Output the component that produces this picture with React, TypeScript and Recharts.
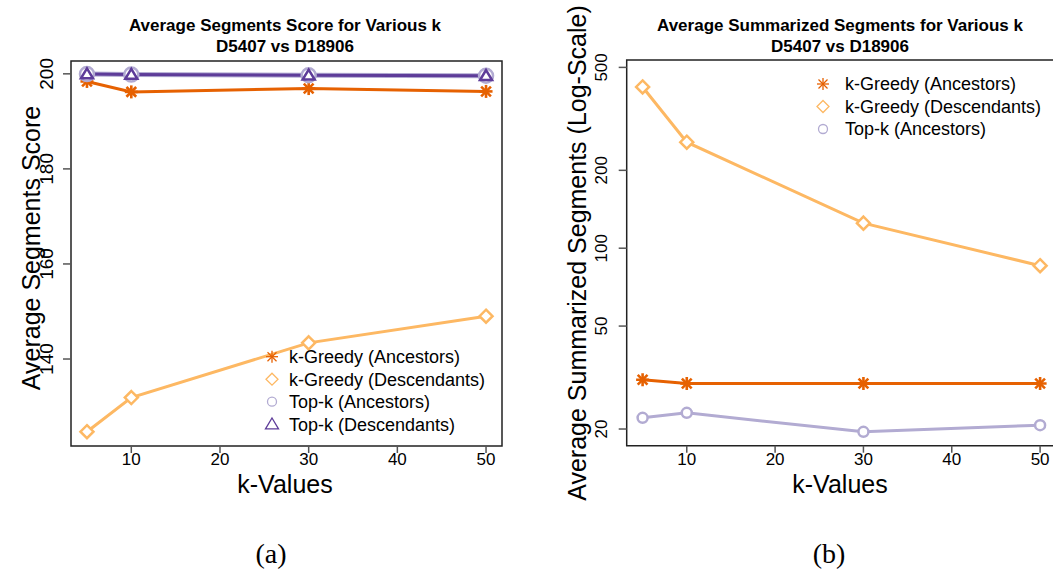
import React from 'react';
import { LineChart, Line, XAxis, YAxis, ReferenceArea, Legend } from 'recharts';

// ---------- shared ----------
const kValues = [5, 10, 30, 50];
const xTicks = [10, 20, 30, 40, 50];

// ---------- (a) Average Segments Score ----------
const scoreGreedyAnc = [198.4, 196.2, 196.9, 196.3];
const scoreGreedyDesc = [124.7, 131.9, 143.4, 149.0];
const scoreTopkAnc = [199.95, 199.85, 199.7, 199.6];
const scoreTopkDesc = [199.95, 199.85, 199.7, 199.6];
const scoreTicks = [140, 160, 180, 200];
const scoreDomain = [121.7, 202.7];

// ---------- (b) Average Summarized Segments (log) ----------
const sumGreedyAnc = [31.0, 30.0, 30.0, 30.0];
const sumGreedyDesc = [420, 257, 125, 85.6];
const sumTopkAnc = [22.1, 23.1, 19.5, 20.7];
const sumTicks = [20, 50, 100, 200, 500];
const sumDomain = [17.24, 534];

const xDomain = [3.2, 51.8];

const seriesNamesA = ['k-Greedy (Ancestors)', 'k-Greedy (Descendants)', 'Top-k (Ancestors)', 'Top-k (Descendants)'];
const seriesNamesB = ['k-Greedy (Ancestors)', 'k-Greedy (Descendants)', 'Top-k (Ancestors)'];

const titleA = ['Average Segments Score for Various k', 'D5407 vs D18906'];
const titleB = ['Average Summarized Segments for Various k', 'D5407 vs D18906'];

const C_GA = '#E66101';
const C_GD = '#FDB863';
const C_TA = '#B2ABD2';
const C_TD = '#5E3C99';

const FONT = '"Liberation Sans", Arial, Helvetica, sans-serif';

const dataA = kValues.map((k, i) => ({
  k,
  ga: scoreGreedyAnc[i],
  gd: scoreGreedyDesc[i],
  ta: scoreTopkAnc[i],
  td: scoreTopkDesc[i],
}));

const dataB = kValues.map((k, i) => ({
  k,
  ga: sumGreedyAnc[i],
  gd: sumGreedyDesc[i],
  ta: sumTopkAnc[i],
}));

// ---------- marker shapes ----------
function Asterisk({ cx, cy, r = 6.5, color, sw = 2.6 }: any) {
  const d = r * 0.75;
  return (
    <g stroke={color} strokeWidth={sw} strokeLinecap="butt">
      <line x1={cx - r} y1={cy} x2={cx + r} y2={cy} />
      <line x1={cx} y1={cy - r} x2={cx} y2={cy + r} />
      <line x1={cx - d} y1={cy - d} x2={cx + d} y2={cy + d} />
      <line x1={cx - d} y1={cy + d} x2={cx + d} y2={cy - d} />
    </g>
  );
}
function Diamond({ cx, cy, r = 6.5, color, sw = 2.5 }: any) {
  return (
    <polygon
      points={`${cx},${cy - r} ${cx + r},${cy} ${cx},${cy + r} ${cx - r},${cy}`}
      fill="#fff"
      stroke={color}
      strokeWidth={sw}
    />
  );
}
function Circ({ cx, cy, r = 5, color, sw = 2.5 }: any) {
  return <circle cx={cx} cy={cy} r={r} fill="#fff" stroke={color} strokeWidth={sw} />;
}
function Tri({ cx, cy, r = 6.5, color, sw = 2.5 }: any) {
  const h = r * 0.95;
  return (
    <polygon
      points={`${cx},${cy - h} ${cx + r},${cy + h * 0.75} ${cx - r},${cy + h * 0.75}`}
      fill="#fff"
      stroke={color}
      strokeWidth={sw}
      strokeLinejoin="miter"
    />
  );
}

const dotFn = (Shape: any, color: string, extra: any = {}) => (p: any) => {
  if (p.cx == null || p.cy == null) return <g key={p.key} />;
  return <Shape key={p.key} cx={p.cx} cy={p.cy} color={color} {...extra} />;
};

// ---------- ticks ----------
const RotTick = (fontSize: number) => (p: any) => {
  const { x, y, payload } = p;
  return (
    <text
      x={x}
      y={y}
      transform={`rotate(-90 ${x} ${y})`}
      textAnchor="middle"
      fontSize={fontSize}
      fontFamily={FONT}
      fill="#000"
    >
      {payload.value}
    </text>
  );
};

// ---------- legends ----------
const legendRow = 22.5;
function LegendA() {
  const shapes = [
    <Asterisk cx={10} cy={12.7} r={6} color={C_GA} sw={1.3} />,
    <Diamond cx={10} cy={12.7 + legendRow} r={6} color={C_GD} sw={1.3} />,
    <Circ cx={10} cy={12.7 + legendRow * 2} r={4.5} color={C_TA} sw={1.3} />,
    <Tri cx={10} cy={12.7 + legendRow * 3} r={6.5} color={C_TD} sw={1.3} />,
  ];
  return (
    <svg width={250} height={100} style={{ display: 'block', overflow: 'visible' }}>
      {seriesNamesA.map((n, i) => (
        <g key={n}>
          {shapes[i]}
          <text x={27} y={12.7 + legendRow * i} dy="0.36em" fontSize={18} fontFamily={FONT} fill="#000">
            {n}
          </text>
        </g>
      ))}
    </svg>
  );
}
function LegendB() {
  const shapes = [
    <Asterisk cx={10} cy={12} r={6} color={C_GA} sw={1.3} />,
    <Diamond cx={10} cy={12 + legendRow} r={6} color={C_GD} sw={1.3} />,
    <Circ cx={10} cy={12 + legendRow * 2} r={4.5} color={C_TA} sw={1.3} />,
  ];
  return (
    <svg width={250} height={80} style={{ display: 'block', overflow: 'visible' }}>
      {seriesNamesB.map((n, i) => (
        <g key={n}>
          {shapes[i]}
          <text x={32} y={12 + legendRow * i} dy="0.36em" fontSize={18} fontFamily={FONT} fill="#000">
            {n}
          </text>
        </g>
      ))}
    </svg>
  );
}

const tickStyle = { fontSize: 17, fill: '#000', fontFamily: FONT };

export default function App() {
  return (
    <div
      style={{
        position: 'absolute',
        left: 0,
        top: 0,
        width: 1053,
        height: 570,
        overflow: 'hidden',
        background: '#fff',
      }}
    >
      {/* (a) */}
      <div style={{ position: 'absolute', left: 0, top: 0 }}>
        <LineChart width={540} height={570} data={dataA} margin={{ top: 61, left: 21, right: 38, bottom: 94 }}>
          <XAxis
            dataKey="k"
            type="number"
            domain={xDomain}
            ticks={xTicks}
            allowDataOverflow
            axisLine={false}
            tickSize={7}
            tickMargin={0}
            height={30}
            tickLine={{ stroke: '#555', strokeWidth: 1.5 }}
            tick={tickStyle}
          />
          <YAxis
            type="number"
            domain={scoreDomain}
            ticks={scoreTicks}
            allowDataOverflow
            axisLine={false}
            width={50}
            tickSize={8}
            tickMargin={10}
            tickLine={{ stroke: '#555', strokeWidth: 1.5 }}
            tick={RotTick(19)}
          />
          <ReferenceArea
            x1={xDomain[0]}
            x2={xDomain[1]}
            y1={scoreDomain[0]}
            y2={scoreDomain[1]}
            fill="none"
            fillOpacity={0}
            stroke="#222"
            strokeWidth={1.5}
            ifOverflow="visible"
          />
          <Line dataKey="gd" stroke={C_GD} strokeWidth={3} dot={dotFn(Diamond, C_GD)} isAnimationActive={false} />
          <Line dataKey="ga" stroke={C_GA} strokeWidth={3} dot={dotFn(Asterisk, C_GA)} isAnimationActive={false} />
          <Line dataKey="ta" stroke={C_TA} strokeWidth={5} dot={dotFn(Circ, C_TA, { r: 7 })} isAnimationActive={false} />
          <Line dataKey="td" stroke={C_TD} strokeWidth={3} dot={dotFn(Tri, C_TD, { r: 6 })} isAnimationActive={false} />
          <Legend
            layout="vertical"
            align="center"
            verticalAlign="middle"
            content={() => <LegendA />}
            wrapperStyle={{ position: 'absolute', left: 262, top: 344, width: 250, height: 100 }}
          />
        </LineChart>
      </div>

      {/* (b) */}
      <div style={{ position: 'absolute', left: 540, top: 0 }}>
        <LineChart width={540} height={570} data={dataB} margin={{ top: 60, left: 36.7, right: 24, bottom: 94.3 }}>
          <XAxis
            dataKey="k"
            type="number"
            domain={xDomain}
            ticks={xTicks}
            allowDataOverflow
            axisLine={false}
            tickSize={7}
            tickMargin={0}
            height={30}
            tickLine={{ stroke: '#555', strokeWidth: 1.5 }}
            tick={tickStyle}
          />
          <YAxis
            type="number"
            scale="log"
            domain={sumDomain}
            ticks={sumTicks}
            allowDataOverflow
            axisLine={false}
            width={50}
            tickSize={8}
            tickMargin={12}
            tickLine={{ stroke: '#555', strokeWidth: 1.5 }}
            tick={RotTick(17)}
          />
          <ReferenceArea
            x1={xDomain[0]}
            x2={xDomain[1]}
            y1={sumDomain[0]}
            y2={sumDomain[1]}
            fill="none"
            fillOpacity={0}
            stroke="#222"
            strokeWidth={1.5}
            ifOverflow="visible"
          />
          <Line dataKey="gd" stroke={C_GD} strokeWidth={3} dot={dotFn(Diamond, C_GD)} isAnimationActive={false} />
          <Line dataKey="ga" stroke={C_GA} strokeWidth={3} dot={dotFn(Asterisk, C_GA)} isAnimationActive={false} />
          <Line dataKey="ta" stroke={C_TA} strokeWidth={3} dot={dotFn(Circ, C_TA, { r: 5 })} isAnimationActive={false} />
          <Legend
            layout="vertical"
            align="center"
            verticalAlign="middle"
            content={() => <LegendB />}
            wrapperStyle={{ position: 'absolute', left: 273, top: 72, width: 250, height: 80 }}
          />
        </LineChart>
      </div>

      {/* text overlay: titles, axis titles, captions */}
      <svg
        width={1053}
        height={570}
        style={{ position: 'absolute', left: 0, top: 0, pointerEvents: 'none' }}
        fontFamily={FONT}
      >
        <text x={285} y={30.5} textAnchor="middle" fontSize={17} fontWeight="bold" fill="#000">{titleA[0]}</text>
        <text x={285} y={52} textAnchor="middle" fontSize={17} fontWeight="bold" fill="#000">{titleA[1]}</text>
        <text x={840} y={30.5} textAnchor="middle" fontSize={17} fontWeight="bold" fill="#000">{titleB[0]}</text>
        <text x={840} y={52} textAnchor="middle" fontSize={17} fontWeight="bold" fill="#000">{titleB[1]}</text>

        <text x={285} y={493} textAnchor="middle" fontSize={25} fill="#000">k-Values</text>
        <text x={840} y={493} textAnchor="middle" fontSize={25} fill="#000">k-Values</text>

        <text x={40} y={248} transform="rotate(-90 40 248)" textAnchor="middle" fontSize={25} fill="#000">
          Average Segments Score
        </text>
        <text x={586} y={253} transform="rotate(-90 586 253)" textAnchor="middle" fontSize={25} fill="#000">
          Average Summarized Segments (Log-Scale)
        </text>

        <text x={271} y={563} textAnchor="middle" fontSize={28} fontFamily='"Liberation Serif", "Times New Roman", serif' fill="#000">(a)</text>
        <text x={829} y={563} textAnchor="middle" fontSize={28} fontFamily='"Liberation Serif", "Times New Roman", serif' fill="#000">(b)</text>
      </svg>
    </div>
  );
}
